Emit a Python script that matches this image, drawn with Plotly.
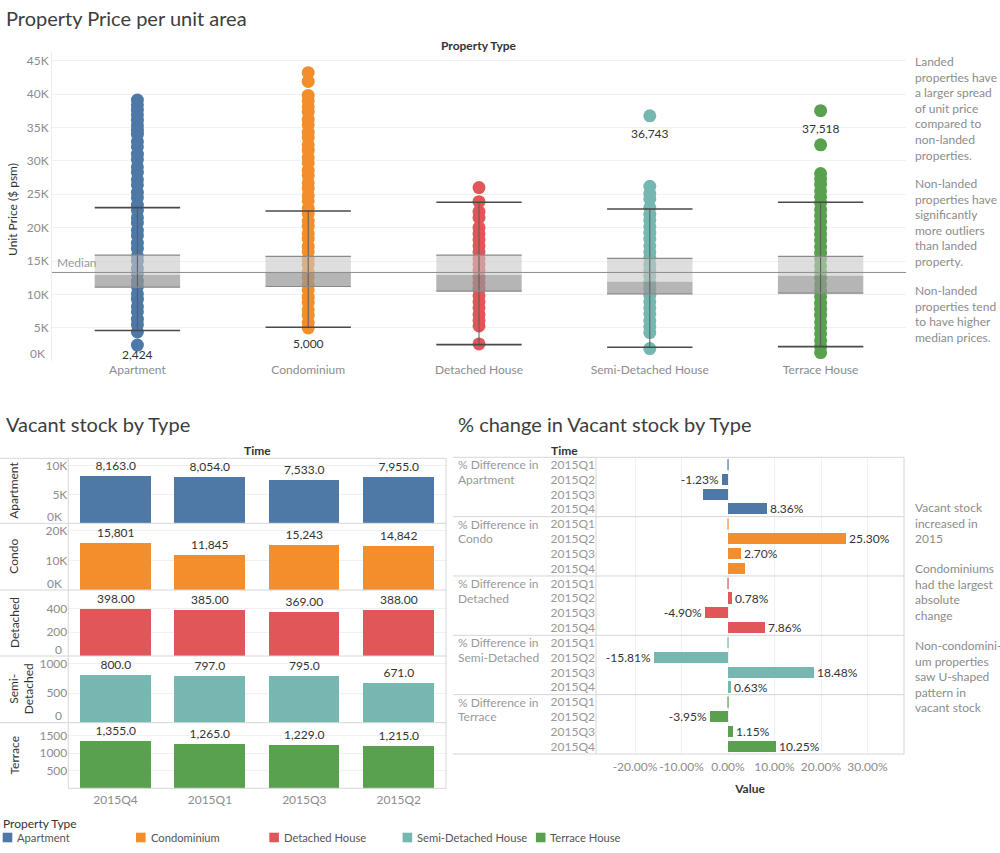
import plotly.graph_objects as go

W, H = 1000, 853

# ---------------- data ----------------
property_types = ["Apartment", "Condominium", "Detached House", "Semi-Detached House", "Terrace House"]
type_colors = ["#4e79a7", "#f28e2b", "#e15759", "#76b7b2", "#59a14f"]

# unit prices ($ psm) of the plotted transactions
apartment_prices = [2424, 4400, 5500, 6300, 7400, 8200, 9300, 10100, 11200, 12000, 13100, 13900, 15000,
                    15800, 16900, 17700, 18800, 19600, 20700, 21500, 22600, 23400, 24500, 25300, 26400,
                    27200, 28300, 29100, 30200, 31000, 32100, 32900, 34000, 34600, 35300, 36100, 36900,
                    37600, 38400, 39100]
condominium_prices = [5000, 5800, 6900, 7700, 8800, 9600, 10700, 11500, 12600, 13400, 14500, 15300, 16400,
                      17200, 18300, 19100, 20200, 21000, 22100, 22900, 24000, 24800, 25900, 26700, 27800,
                      28600, 29700, 30500, 31600, 32400, 33500, 34300, 35400, 36200, 37300, 38100, 39000,
                      39800, 41900, 43200]
detached_prices = [2600, 5300, 6100, 7000, 8000, 8900, 9800, 10800, 11700, 12600, 13600, 14500, 15400,
                   16400, 17300, 18200, 19100, 20000, 21500, 22400, 23900, 26000]
semi_detached_prices = [1900, 4300, 5200, 6100, 7100, 8000, 8900, 9900, 10800, 11700, 12700, 13600, 14500,
                        15500, 16400, 17300, 18300, 19200, 20100, 21100, 22000, 23000, 24300, 25100, 26200,
                        36743]
terrace_prices = [1300, 2200, 3100, 4100, 5000, 5900, 6900, 7800, 8700, 9700, 10600, 11500, 12500, 13400,
                  14300, 15300, 16200, 17100, 18100, 19000, 19900, 20900, 21800, 22700, 23700, 24600,
                  25500, 26500, 27300, 28100, 32400, 37518]

box_upper_whisker = [23000, 22500, 23800, 22800, 23800]
box_q3 = [15900, 15700, 15900, 15400, 15700]
box_median = [12900, 13300, 12900, 11900, 12800]
box_q1 = [11100, 11200, 10500, 10100, 10200]
box_lower_whisker = [4600, 5100, 2500, 2100, 2200]
overall_median = 13300

price_label_type = [0, 1, 3, 4]
price_label_value = [2424, 5000, 36743, 37518]

price_tickvals = [0, 5000, 10000, 15000, 20000, 25000, 30000, 35000, 40000, 45000]
price_ticktext = ["0K", "5K", "10K", "15K", "20K", "25K", "30K", "35K", "40K", "45K"]

stock_quarters = ["2015Q4", "2015Q1", "2015Q3", "2015Q2"]
stock_rows = ["Apartment", "Condo", "Detached", "Semi-<br>Detached", "Terrace"]
apartment_stock = [8163, 8054, 7533, 7955]
condo_stock = [15801, 11845, 15243, 14842]
detached_stock = [398, 385, 369, 388]
semi_detached_stock = [800, 797, 795, 671]
terrace_stock = [1355, 1265, 1229, 1215]
stock_label_formats = [",.1f", ",.0f", ",.2f", ",.1f", ",.1f"]
stock_tickvals = [[0, 5000, 10000], [0, 10000, 20000], [0, 200, 400], [0, 500, 1000], [500, 1000, 1500]]
stock_ticktext = [["0K", "5K", "10K"], ["0K", "10K", "20K"], ["0", "200", "400"], ["0", "500", "1000"],
                  ["500", "1000", "1500"]]

pct_quarters = ["2015Q1", "2015Q2", "2015Q3", "2015Q4"]
pct_groups = ["Apartment", "Condo", "Detached", "Semi-Detached", "Terrace"]
apartment_pct = [0.0, -1.23, -5.30, 8.36]
condo_pct = [0.0, 25.30, 2.70, 3.66]
detached_pct = [0.0, 0.78, -4.90, 7.86]
semi_detached_pct = [0.0, -15.81, 18.48, 0.63]
terrace_pct = [0.0, -3.95, 1.15, 10.25]
pct_label_shown = [[False, True, False, True], [False, True, True, False], [False, True, True, True],
                   [False, True, True, True], [False, True, True, True]]
pct_tickvals = [-20, -10, 0, 10, 20, 30]

top_notes = ["Landed<br>properties have<br>a larger spread<br>of unit price<br>compared to<br>non-landed<br>properties.",
             "Non-landed<br>properties have<br>significantly<br>more outliers<br>than landed<br>property.",
             "Non-landed<br>properties tend<br>to have higher<br>median prices."]
bottom_notes = ["Vacant stock<br>increased in<br>2015",
                "Condominiums<br>had the largest<br>absolute<br>change",
                "Non-condomini-<br>um properties<br>saw U-shaped<br>pattern in<br>vacant stock"]

# ---------------- style ----------------
FONT = "Lato, sans-serif"
GRAY = "#8c8c8c"
DARK = "#333333"
LINE = "#d6d6d6"
GRID = "#f1f1f1"


def px(x):
    return x / W


def py(y):
    return 1 - y / H


fig = go.Figure()
annotations = []
shapes = []

# ================= top: price per unit area =================
price_points = [apartment_prices, condominium_prices, detached_prices, semi_detached_prices, terrace_prices]
for i, pts in enumerate(price_points):
    fig.add_trace(go.Scatter(x=[i] * len(pts), y=pts, mode="markers", xaxis="x", yaxis="y",
                             marker=dict(size=13, color=type_colors[i], line=dict(width=0)),
                             name=property_types[i], showlegend=False))

half = 0.25
for i in range(len(property_types)):
    xs = [i - half, i + half, i + half, i - half, i - half]
    fig.add_trace(go.Scatter(x=xs, y=[box_median[i], box_median[i], box_q3[i], box_q3[i], box_median[i]],
                             fill="toself", fillcolor="rgba(200,200,200,0.6)", mode="lines",
                             line=dict(width=0), xaxis="x", yaxis="y", showlegend=False, hoverinfo="skip"))
    fig.add_trace(go.Scatter(x=xs, y=[box_q1[i], box_q1[i], box_median[i], box_median[i], box_q1[i]],
                             fill="toself", fillcolor="rgba(150,150,150,0.7)", mode="lines",
                             line=dict(width=0), xaxis="x", yaxis="y", showlegend=False, hoverinfo="skip"))

edge_x, edge_y, cap_x, cap_y, stem_x, stem_y = [], [], [], [], [], []
for i in range(len(property_types)):
    for v in (box_q3[i], box_q1[i]):
        edge_x += [i - half, i + half, None]
        edge_y += [v, v, None]
    for v in (box_upper_whisker[i], box_lower_whisker[i]):
        cap_x += [i - half, i + half, None]
        cap_y += [v, v, None]
    stem_x += [i, i, None]
    stem_y += [box_lower_whisker[i], box_upper_whisker[i], None]
fig.add_trace(go.Scatter(x=stem_x, y=stem_y, mode="lines", line=dict(color="#5a5a5a", width=1),
                         xaxis="x", yaxis="y", showlegend=False, hoverinfo="skip"))
fig.add_trace(go.Scatter(x=edge_x, y=edge_y, mode="lines", line=dict(color="#8a8a8a", width=1.2),
                         xaxis="x", yaxis="y", showlegend=False, hoverinfo="skip"))
fig.add_trace(go.Scatter(x=cap_x, y=cap_y, mode="lines", line=dict(color="#4a4a4a", width=1.6),
                         xaxis="x", yaxis="y", showlegend=False, hoverinfo="skip"))

label_yshift = [0, -6, -8, -8]
for k, (ti, v) in enumerate(zip(price_label_type, price_label_value)):
    annotations.append(dict(x=ti, y=v, xref="x", yref="y", text=f"{v:,}", showarrow=False,
                            yanchor="top", yshift=label_yshift[k], font=dict(size=12, color=DARK)))

shapes.append(dict(type="line", xref="x domain", yref="y", x0=0, x1=1, y0=overall_median, y1=overall_median,
                   line=dict(color="#8c8c8c", width=1), layer="above"))
annotations.append(dict(x=0.003, y=overall_median, xref="x domain", yref="y", text="Median", showarrow=False,
                        xanchor="left", yanchor="bottom", font=dict(size=12, color="#999999")))
# zero tick label of the price axis (pushed inside the pane, as Tableau does)
annotations.append(dict(x=px(47), y=0, xref="paper", yref="y", text=price_ticktext[0], showarrow=False,
                        xanchor="right", yanchor="middle", yshift=8, font=dict(size=12, color=GRAY)))

annotations.append(dict(x=px(4), y=py(18), xref="paper", yref="paper", text="Property Price per unit area",
                        showarrow=False, xanchor="left", yanchor="middle", font=dict(size=20, color="#3d3d3d")))
annotations.append(dict(x=px(479), y=py(45), xref="paper", yref="paper", text="<b>Property Type</b>",
                        showarrow=False, xanchor="center", yanchor="middle", font=dict(size=12, color=DARK)))
annotations.append(dict(x=px(13), y=py(210), xref="paper", yref="paper", text="Unit Price ($ psm)",
                        showarrow=False, textangle=-90, xanchor="center", yanchor="middle",
                        font=dict(size=12, color=DARK)))
for note, first_line in zip(top_notes, [60.7, 182.7, 290.0]):
    annotations.append(dict(x=px(913), y=py(first_line - 9), xref="paper", yref="paper", text=note,
                            showarrow=False, xanchor="left", yanchor="top", align="left",
                            font=dict(size=12, color=GRAY)))

# ================= bottom left: vacant stock =================
stock_values = [apartment_stock, condo_stock, detached_stock, semi_detached_stock, terrace_stock]
row_bounds = [458.3, 523.3, 590.0, 656.0, 722.7, 788.3]
stock_ranges = [11280, 22600, 554, 1130, 1870]
for r, vals in enumerate(stock_values):
    fig.add_trace(go.Bar(x=stock_quarters, y=vals, xaxis="x2", yaxis=f"y{r + 2}", width=0.75,
                         marker=dict(color=type_colors[r], line=dict(width=0)),
                         text=[format(v, stock_label_formats[r]) for v in vals], textposition="outside",
                         textangle=0, constraintext="none", cliponaxis=False,
                         textfont=dict(size=12, color=DARK), showlegend=False, name=stock_rows[r]))

# ================= bottom right: % change =================
pct_values = [apartment_pct, condo_pct, detached_pct, semi_detached_pct, terrace_pct]
nq = len(pct_quarters)
for g, vals in enumerate(pct_values):
    rows = [g * nq + q for q in range(nq)]
    fig.add_trace(go.Bar(x=vals, y=rows, orientation="h", xaxis="x3", yaxis="y7", width=0.75,
                         marker=dict(color=type_colors[g], line=dict(width=0)),
                         text=[f"{v:.2f}%" if s else "" for v, s in zip(vals, pct_label_shown[g])],
                         textposition="outside", textangle=0, constraintext="none", cliponaxis=False,
                         textfont=dict(size=12, color=DARK), showlegend=False, name=pct_groups[g]))
    zx, zy = [], []
    for v, rr in zip(vals, rows):
        if v == 0:
            zx += [v, v, None]
            zy += [rr - 0.375, rr + 0.375, None]
    fig.add_trace(go.Scatter(x=zx, y=zy, mode="lines", line=dict(color=type_colors[g], width=1.2),
                             xaxis="x3", yaxis="y7", showlegend=False, hoverinfo="skip"))
    annotations.append(dict(x=px(456), y=g * nq, xref="paper", yref="y7", text="% Difference in",
                            showarrow=False, xanchor="left", yanchor="middle", font=dict(size=12, color="#999999")))
    annotations.append(dict(x=px(456), y=g * nq + 1, xref="paper", yref="y7", text=pct_groups[g],
                            showarrow=False, xanchor="left", yanchor="middle", font=dict(size=12, color="#999999")))

# ---------------- layout ----------------
layout = dict(
    width=W, height=H, margin=dict(l=0, r=0, t=0, b=0), paper_bgcolor="white", plot_bgcolor="white",
    font=dict(family=FONT, size=12, color=DARK), showlegend=False, bargap=0,
    xaxis=dict(domain=[px(52), px(906)], anchor="y", range=[-0.5, 4.5], tickvals=list(range(len(property_types))),
               ticktext=property_types, showgrid=False, zeroline=False, showline=False, ticks="",
               tickfont=dict(size=12, color=GRAY), fixedrange=True),
    yaxis=dict(domain=[py(361.3), py(52)], anchor="x", range=[0, 46300], tickvals=price_tickvals,
               ticktext=[""] + price_ticktext[1:], showgrid=True, gridcolor=GRID, zeroline=False,
               showline=True, linecolor="#ededed", ticks="", tickfont=dict(size=12, color=GRAY), fixedrange=True),
    xaxis2=dict(domain=[px(68.3), px(446)], anchor="y6", type="category", categoryorder="array",
                categoryarray=stock_quarters, showgrid=False, zeroline=False, showline=False, ticks="",
                ticklabelstandoff=3, tickfont=dict(size=12, color=GRAY), fixedrange=True),
    xaxis3=dict(domain=[px(596), px(904)], anchor="y7", range=[-28.39, 37.85], tickvals=pct_tickvals,
                ticktext=[f"{t:.2f}%" for t in pct_tickvals], tickangle=0, showgrid=True, gridcolor=GRID,
                zeroline=False, showline=False, ticks="", ticklabelstandoff=4,
                tickfont=dict(size=12, color=GRAY), fixedrange=True,
                title=dict(text="<b>Value</b>", font=dict(size=12, color=DARK), standoff=11)),
    yaxis7=dict(domain=[py(754), py(457.3)], anchor="x3", range=[len(pct_groups) * nq - 0.5, -0.5],
                tickvals=list(range(len(pct_groups) * nq)), ticktext=pct_quarters * len(pct_groups),
                showgrid=False, zeroline=False, showline=False, ticks="", tickfont=dict(size=12, color="#999999"),
                fixedrange=True),
)
for r in range(len(stock_rows)):
    tv = [v for v in stock_tickvals[r] if v != 0]
    tt = [t for v, t in zip(stock_tickvals[r], stock_ticktext[r]) if v != 0]
    layout[f"yaxis{r + 2}"] = dict(domain=[py(row_bounds[r + 1]), py(row_bounds[r])], anchor="x2",
                                   range=[0, stock_ranges[r]], tickvals=tv, ticktext=tt, showgrid=True,
                                   gridcolor=GRID, zeroline=False, showline=False, ticks="",
                                   tickfont=dict(size=12, color=GRAY), fixedrange=True)
    for v, t in zip(stock_tickvals[r], stock_ticktext[r]):
        if v == 0:
            annotations.append(dict(x=px(64), y=0, xref="paper", yref=f"y{r + 2}", text=t, showarrow=False,
                                    xanchor="right", yanchor="middle", yshift=7, font=dict(size=12, color=GRAY)))
    label_x = 21 if "<br>" in stock_rows[r] else 14
    annotations.append(dict(x=px(label_x), y=py((row_bounds[r] + row_bounds[r + 1]) / 2), xref="paper",
                            yref="paper", text=stock_rows[r], showarrow=False, textangle=-90, xanchor="center",
                            yanchor="middle", font=dict(size=12, color=DARK)))

# frames bottom-left
for k, yb in enumerate(row_bounds):
    x0 = 68.3 if k == len(row_bounds) - 1 else 0
    shapes.append(dict(type="line", xref="paper", yref="paper", x0=px(x0), x1=px(446), y0=py(yb), y1=py(yb),
                       line=dict(color=LINE, width=1)))
for xb in (68.3, 446):
    shapes.append(dict(type="line", xref="paper", yref="paper", x0=px(xb), x1=px(xb), y0=py(458.3), y1=py(788.3),
                       line=dict(color=LINE, width=1)))
# frames bottom-right
grp_h = (754 - 457.3) / len(pct_groups)
for k in range(len(pct_groups) + 1):
    yb = 457.3 + k * grp_h
    shapes.append(dict(type="line", xref="paper", yref="paper", x0=px(453), x1=px(904), y0=py(yb), y1=py(yb),
                       line=dict(color=LINE, width=1)))
for xb in (596, 904):
    shapes.append(dict(type="line", xref="paper", yref="paper", x0=px(xb), x1=px(xb), y0=py(457.3), y1=py(754),
                       line=dict(color=LINE, width=1)))

annotations.append(dict(x=px(4), y=py(424), xref="paper", yref="paper", text="Vacant stock by Type",
                        showarrow=False, xanchor="left", yanchor="middle", font=dict(size=20, color="#3d3d3d")))
annotations.append(dict(x=px(456), y=py(424), xref="paper", yref="paper", text="% change in Vacant stock by Type",
                        showarrow=False, xanchor="left", yanchor="middle", font=dict(size=20, color="#3d3d3d")))
annotations.append(dict(x=px(257), y=py(450.5), xref="paper", yref="paper", text="<b>Time</b>",
                        showarrow=False, xanchor="center", yanchor="middle", font=dict(size=12, color=DARK)))
annotations.append(dict(x=px(549), y=py(450.5), xref="paper", yref="paper", text="<b>Time</b>",
                        showarrow=False, xanchor="left", yanchor="middle", font=dict(size=12, color=DARK)))
for note, first_line in zip(bottom_notes, [506.7, 567.7, 644.7]):
    annotations.append(dict(x=px(913), y=py(first_line - 9), xref="paper", yref="paper", text=note,
                            showarrow=False, xanchor="left", yanchor="top", align="left",
                            font=dict(size=12, color=GRAY)))

# legend (manual, Tableau style)
annotations.append(dict(x=px(1), y=py(823.3), xref="paper", yref="paper", text="Property Type",
                        showarrow=False, xanchor="left", yanchor="middle", font=dict(size=12, color=DARK)))
for i, name in enumerate(property_types):
    x0 = 2.7 + i * 133.3
    shapes.append(dict(type="rect", xref="paper", yref="paper", x0=px(x0), x1=px(x0 + 9.6), y0=py(842.3),
                       y1=py(832.7), fillcolor=type_colors[i], line=dict(width=0)))
    annotations.append(dict(x=px(x0 + 12.5), y=py(837.7), xref="paper", yref="paper", text=name, showarrow=False,
                            xanchor="left", yanchor="middle", font=dict(size=11.2, color="#555555")))

layout["annotations"] = annotations
layout["shapes"] = shapes
fig.update_layout(**layout)
fig.write_html("out.html", config={"displayModeBar": False},
               post_script="document.body.style.margin='0';document.body.style.padding='0';")
